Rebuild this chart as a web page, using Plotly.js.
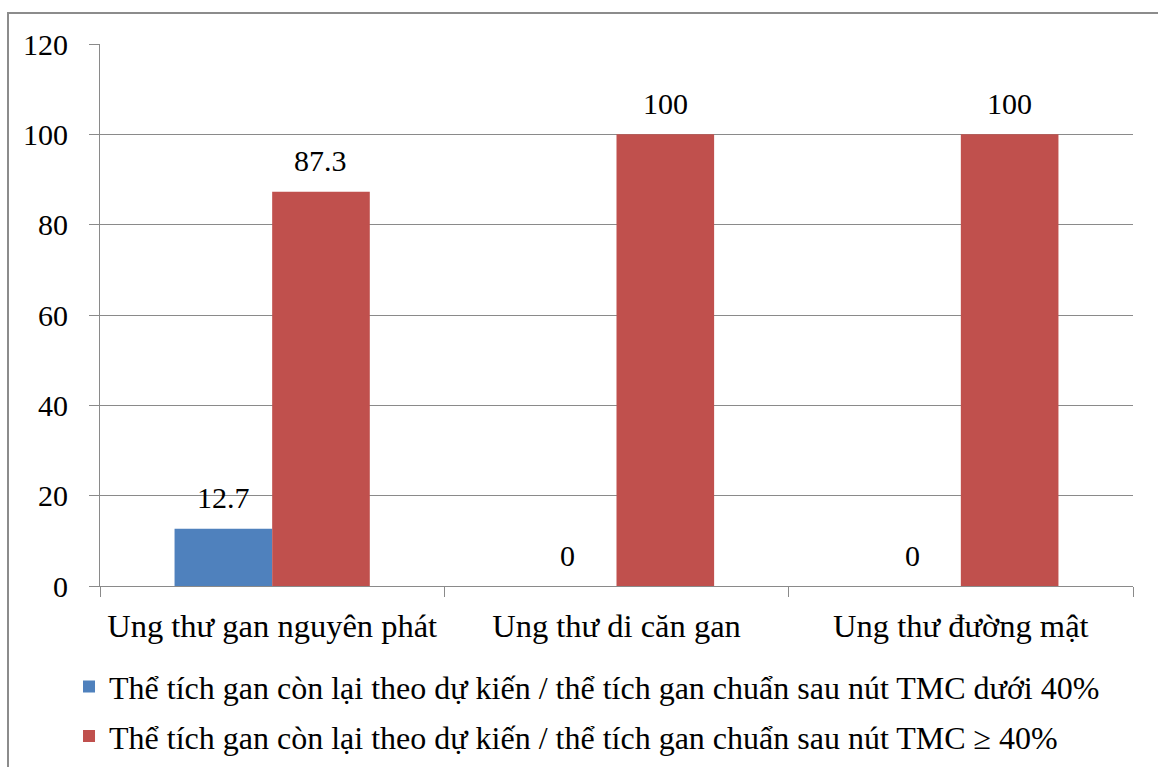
<!DOCTYPE html>
<html>
<head>
<meta charset="utf-8">
<script src="https://cdn.plot.ly/plotly-3.0.1.min.js"></script>
<style>
  html, body { margin: 0; padding: 0; background: #fff; overflow: hidden; }
  #chart { width: 1158px; height: 767px; }
  #frame { position: absolute; left: 7px; top: 12px; width: 1200px; height: 800px;
           border: 2px solid #8c8c8c; pointer-events: none; box-sizing: border-box; }
</style>
</head>
<body>
<div id="chart"></div>
<div id="frame"></div>
<script>
const categories = ["Ung thư gan nguyên phát", "Ung thư di căn gan", "Ung thư đường mật"];
const seriesNames = [
  "Thể tích gan còn lại theo dự kiến / thể tích gan chuẩn sau nút TMC dưới 40%",
  "Thể tích gan còn lại theo dự kiến / thể tích gan chuẩn sau nút TMC ≥ 40%"
];
const below40 = [12.7, 0, 0];
const atLeast40 = [87.3, 100, 100];
const yTicks = [0, 20, 40, 60, 80, 100, 120];

const fontFamily = "Liberation Serif";
const numberSize = 30;
const labelSize = 32.5;
const legendSize = 32;
const gray = "#8a8a8a";
const bargap = 0.433;
const colors = ["#4f81bd", "#c0504d"];
const series = [below40, atLeast40];

const data = series.map((values, i) => ({
  type: "bar",
  x: categories,
  y: values,
  name: seriesNames[i],
  legendgroup: "g" + i,
  marker: { color: colors[i], line: { width: 0 } },
  hoverinfo: "skip"
}));

// value labels above each bar, placed at the bar's centre within its group
const barWidth = (1 - bargap) / 2;
const annotations = [];
series.forEach((values, i) => {
  const offset = (i - 0.5) * barWidth;
  values.forEach((v, j) => {
    annotations.push({
      x: j + offset, y: v, xref: "x", yref: "y",
      text: String(v), showarrow: false,
      yanchor: "middle", yshift: 31,
      font: { family: fontFamily, size: numberSize, color: "#000" }
    });
  });
});

const layout = {
  width: 1158,
  height: 767,
  margin: { l: 100, r: 25, t: 44, b: 181, autoexpand: false },
  paper_bgcolor: "#fff",
  plot_bgcolor: "#fff",
  font: { family: fontFamily, size: labelSize, color: "#000" },
  barmode: "group",
  bargap: bargap,
  bargroupgap: 0,
  showlegend: true,
  annotations: annotations,
  legend: {
    orientation: "v",
    x: -0.03, xanchor: "left",
    y: -0.135, yanchor: "top",
    font: { family: fontFamily, size: legendSize, color: "#000" },
    tracegroupgap: 5,
    bgcolor: "rgba(0,0,0,0)"
  },
  xaxis: {
    type: "category",
    showline: true, linecolor: gray, linewidth: 1,
    ticks: "outside", tickson: "boundaries", ticklen: 10, tickcolor: gray,
    ticklabelstandoff: 11,
    showgrid: false,
    tickfont: { family: fontFamily, size: labelSize, color: "#000" },
    fixedrange: true
  },
  yaxis: {
    range: [0, 120],
    tickvals: yTicks,
    ticktext: yTicks.map(String),
    showline: true, linecolor: gray, linewidth: 1,
    ticks: "outside", ticklen: 10, tickcolor: gray,
    ticklabelstandoff: 15,
    showgrid: true, gridcolor: gray, gridwidth: 1,
    zeroline: false,
    tickfont: { family: fontFamily, size: numberSize, color: "#000" },
    fixedrange: true
  }
};

Plotly.newPlot("chart", data, layout, { displayModeBar: false, staticPlot: true });
</script>
</body>
</html>
